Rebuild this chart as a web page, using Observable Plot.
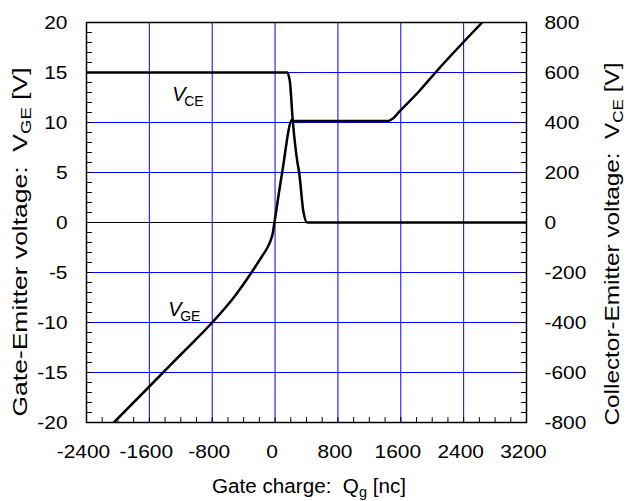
<!DOCTYPE html>
<html><head><meta charset="utf-8">
<script src="https://cdn.jsdelivr.net/npm/d3@7"></script>
<script src="https://cdn.jsdelivr.net/npm/@observablehq/plot@0.6"></script>
<style>body{margin:0;background:#fff}</style>
</head><body><div id="chart"></div>
<script>
// Gate-emitter voltage curve (Qg in nC, VGE in V)
const vgeQ = [-2052, -1600, -1200, -800, -526, -300, -164, -100, -59, -30, -8, 90, 218, 225, 800, 1440, 1500, 1587, 1842, 2042, 2636];
const vgeV = [-20, -16.4, -13.2, -10, -7.5, -5, -3.35, -2.55, -1.85, -1.1, 0, 5, 10.3, 10.15, 10.15, 10.15, 10.4, 11.13, 13.2, 15, 20];
// Collector-emitter voltage curve (Qg in nC, VCE in V)
const vceQ = [-2400, 154, 187, 225, 281, 307, 358, 409, 3200];
const vceV = [600, 600, 568, 408, 248, 199, 48, 0, 0];
// axis ticks
const xTicks = [-2400, -1600, -800, 0, 800, 1600, 2400, 3200];
const yLeftTicks = [-20, -15, -10, -5, 0, 5, 10, 15, 20];
const yRightTicks = [-800, -600, -400, -200, 0, 200, 400, 600, 800];
const xGrid = [-1600, -800, 0, 800, 1600, 2400];
const yGrid = [-15, -10, -5, 5, 10, 15];
const xMinor = d3.range(-2400, 3201, 200);
const yMinor = d3.range(-20, 21, 1);
// in-plot curve labels
const curveLabels = [
  {q: -1309, v: 12.2, main: "V", sub: "CE"},
  {q: -1360, v: -9.3, main: "V", sub: "GE"}
];

const ratio = 40; // right axis volts per left-axis volt
const vge = vgeQ.map((q, i) => ({q, v: vgeV[i]}));
const vce = vceQ.map((q, i) => ({q, v: vceV[i] / ratio}));

const tickShape = {draw(context, l) { context.moveTo(0, 0); context.lineTo(0, -l); }};
const FONT = "'Liberation Sans', Arial, Helvetica, sans-serif";

const plot = Plot.plot({
  width: 636, height: 501,
  marginLeft: 86, marginRight: 110, marginTop: 22, marginBottom: 79,
  style: {fontFamily: FONT, fontSize: "19px", background: "#fff", color: "#000"},
  x: {domain: [-2400, 3200]},
  y: {domain: [-20, 20]},
  marks: [
    Plot.gridX(xGrid, {stroke: "#0000ff", strokeOpacity: 1, strokeWidth: 1}),
    Plot.gridY(yGrid, {stroke: "#0000ff", strokeOpacity: 1, strokeWidth: 1}),
    Plot.ruleY([0], {stroke: "#000", strokeWidth: 1}),
    Plot.vector(xMinor, {x: d => d, frameAnchor: "bottom", length: 5, rotate: 0, anchor: "start", shape: tickShape, stroke: "#000", strokeWidth: 1}),
    Plot.vector(yMinor, {y: d => d, frameAnchor: "left", length: 5, rotate: 90, anchor: "start", shape: tickShape, stroke: "#000", strokeWidth: 1}),
    Plot.vector(yMinor, {y: d => d, frameAnchor: "right", length: 5, rotate: 270, anchor: "start", shape: tickShape, stroke: "#000", strokeWidth: 1}),
    Plot.axisX(xTicks, {tickSize: 0, tickPadding: 22, tickFormat: d => String(d), dx: -3, fontSize: 19, label: null}),
    Plot.axisY(yLeftTicks, {anchor: "left", tickSize: 0, tickPadding: 19, tickFormat: d => String(d), fontSize: 19, label: null}),
    Plot.axisY(yLeftTicks, {anchor: "right", tickSize: 0, tickPadding: 18, tickFormat: d => String(d * ratio), fontSize: 19, label: null}),
    Plot.line(vce, {x: "q", y: "v", stroke: "#000", strokeWidth: 2.5, curve: "monotone-x", clip: true}),
    Plot.line(vge, {x: "q", y: "v", stroke: "#000", strokeWidth: 2.5, curve: "monotone-x", clip: true}),
    Plot.text(curveLabels, {x: "q", y: "v", text: "main", fontStyle: "italic", fontSize: 20, textAnchor: "start", lineAnchor: "bottom"}),
    Plot.text(curveLabels, {x: "q", y: "v", text: "sub", fontSize: 14, textAnchor: "start", lineAnchor: "bottom", dx: 12, dy: 5}),
    Plot.frame({stroke: "#000", strokeWidth: 1.5})
  ]
});

// axis titles with subscripts
const svg = d3.select(plot);
const xs = plot.scale("x"), ys = plot.scale("y");
const xMid = (xs.range[0] + xs.range[1]) / 2 + 3;
const yMid = (ys.range[0] + ys.range[1]) / 2 + 20;
function title(sel, parts, len) {
  for (const p of parts) {
    const t = sel.append("tspan").text(p.t);
    if (p.sub) t.attr("font-size", 14).attr("dy", 4);
    if (p.after) t.attr("dy", -4);
  }
  sel.attr("textLength", len).attr("lengthAdjust", "spacingAndGlyphs");
}
const gT = svg.append("g").attr("font-family", FONT).attr("font-size", 20).attr("fill", "#000");
title(gT.append("text").attr("x", xMid).attr("y", 493).attr("text-anchor", "middle"),
  [{t: "Gate charge:  Q"}, {t: "g", sub: true}, {t: " [nc]", after: true}], 194);
title(gT.append("text").attr("transform", `translate(27,${yMid}) rotate(-90)`).attr("text-anchor", "middle"),
  [{t: "Gate-Emitter voltage:  V"}, {t: "GE", sub: true}, {t: " [V]", after: true}], 349);
title(gT.append("text").attr("transform", `translate(619,${yMid + 2}) rotate(-90)`).attr("text-anchor", "middle"),
  [{t: "Collector-Emitter voltage:  V"}, {t: "CE", sub: true}, {t: " [V]", after: true}], 363);

document.getElementById("chart").appendChild(plot);
// slightly widen tick labels to match the reference's wide numerals
svg.selectAll("g[aria-label$='tick label'] text").each(function() {
  const w = this.getComputedTextLength();
  this.setAttribute("textLength", w * 1.1);
  this.setAttribute("lengthAdjust", "spacingAndGlyphs");
});
</script>
</body></html>
